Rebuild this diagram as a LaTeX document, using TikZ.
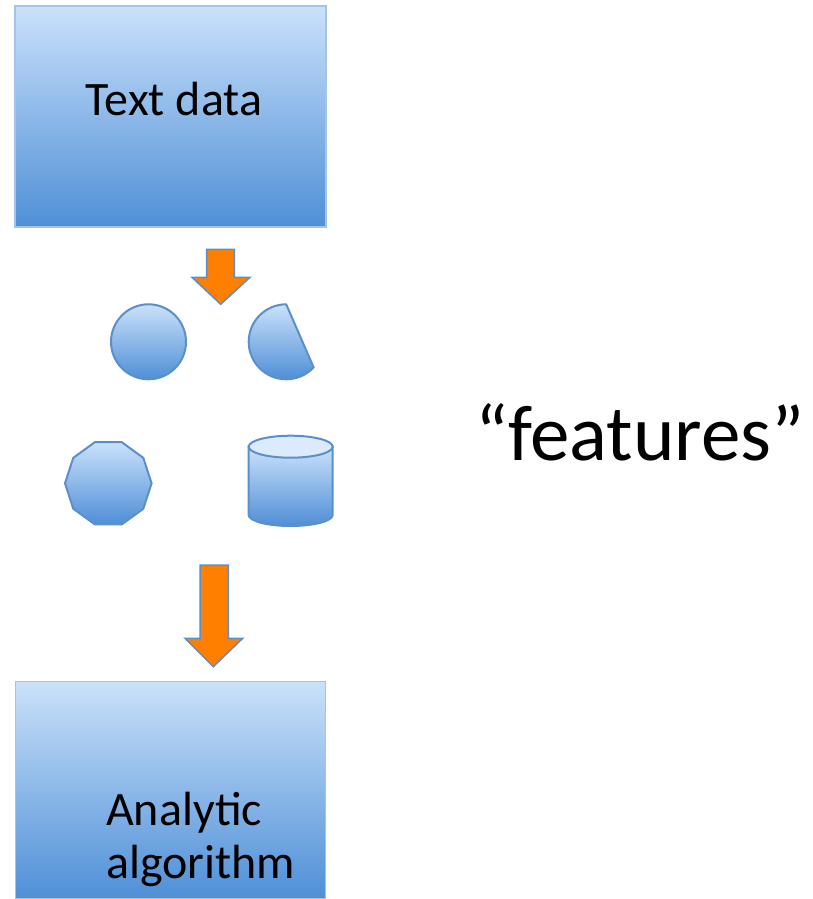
\documentclass[tikz,border=0pt]{standalone}
\usepackage{fontspec}
\setmainfont{Carlito}
\usetikzlibrary{shapes.geometric}
\definecolor{gtop}{HTML}{CAE1FA}
\definecolor{gbot}{HTML}{4F8FD7}
\definecolor{boxline}{HTML}{A3C4EA}
\definecolor{shapeline}{HTML}{5B8FCB}
\definecolor{arrowfill}{HTML}{FF7F00}
\definecolor{captop}{HTML}{DCEBFC}
\begin{document}
\begin{tikzpicture}[x=1pt,y=-1pt,
  bluebox/.style={draw=boxline,line width=1.5pt,top color=gtop,bottom color=gbot,rectangle,inner sep=0pt},
  blueshape/.style={draw=shapeline,line width=2pt,top color=gtop,bottom color=gbot},
  blockarrow/.style={draw=shapeline,line width=1.5pt,fill=arrowfill,line join=miter},
  bigtext/.style={font=\fontsize{48}{53}\selectfont,inner sep=0pt}]
\useasboundingbox (0,0) rectangle (812,899);
% boxes
\node[bluebox,minimum width=311pt,minimum height=221pt] (textbox) at (170.5,116.5) {};
\node[bigtext,anchor=base] (textlabel) at (174,115) {Text data};
\node[bluebox,minimum width=310pt,minimum height=217pt] (algbox) at (170.7,790) {};
\node[bigtext,anchor=base west,align=left] (alglabel) at (106,878) {Analytic\\algorithm};
% arrow 1
\draw[blockarrow] (206.7,249.3) -- (234.3,249.3) -- (234.3,277.3) -- (250,277.3) -- (220.7,304.3) -- (192,277.3) -- (206.7,277.3) -- cycle;
% arrow 2
\draw[blockarrow] (200,565) -- (228.3,565) -- (228.3,638.3) -- (242.7,638.3) -- (213.3,666.7) -- (185,638.3) -- (200,638.3) -- cycle;
% circle
\node[blueshape,circle,minimum size=75pt,inner sep=0pt] (circ) at (148.5,341.8) {};
% chord shape
\path[blueshape] (286.2,304.3) arc[start angle=-90,end angle=-317,radius=37.5] -- cycle;
% decagon
\node[blueshape,regular polygon,regular polygon sides=10,minimum size=86.6pt,inner sep=0pt] (deca) at (108.3,483.3) {};
% cylinder
\path[blueshape] (248.7,446.7) -- (248.7,515) arc[start angle=180,end angle=0,x radius=42,y radius=11] -- (332.7,446.7) -- cycle;
\draw[draw=shapeline,line width=2pt,fill=captop] (290.7,446.7) ellipse[x radius=42,y radius=11];
% features
\node[font=\fontsize{79}{90}\selectfont,anchor=base west,inner sep=0pt] (feat) at (475,460) {“features”};
\end{tikzpicture}
\end{document}
